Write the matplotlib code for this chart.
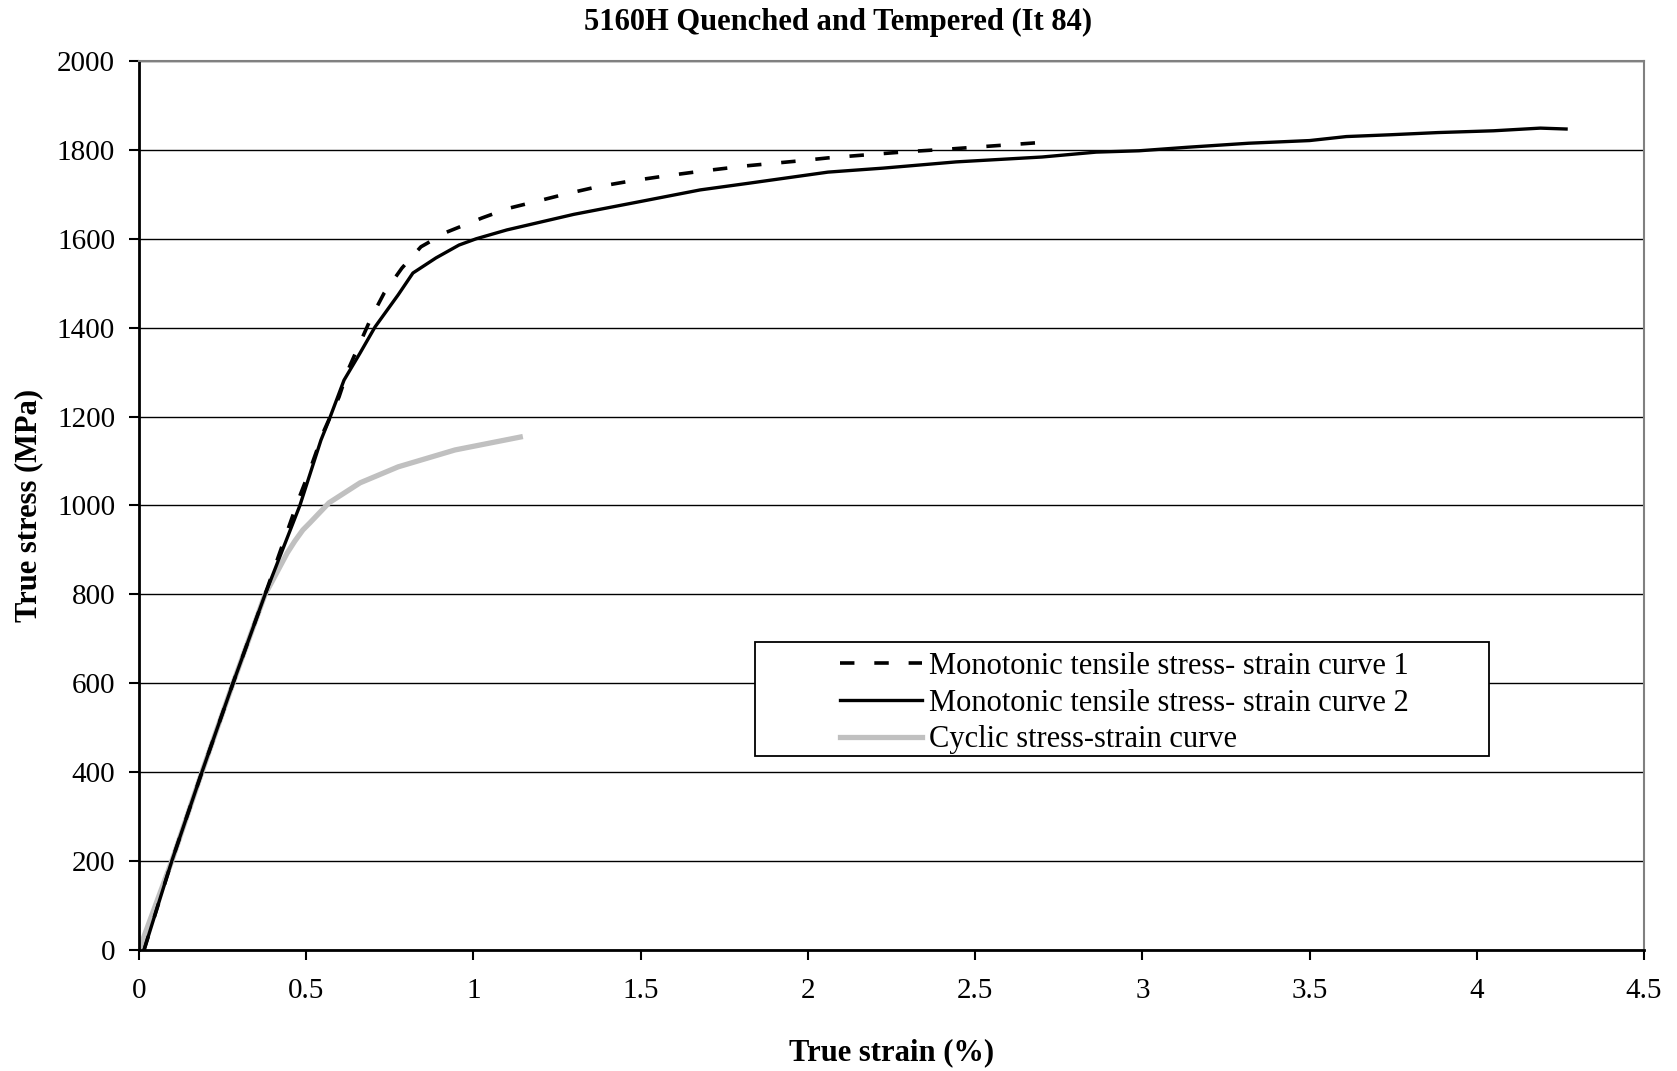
import matplotlib
matplotlib.use("Agg")
import matplotlib.pyplot as plt
from matplotlib.patches import Rectangle

# ---- data ----
strain_mono1 = [0.015, 0.098, 0.188, 0.281, 0.377, 0.476, 0.511, 0.55, 0.598, 0.625, 0.661,
                0.694, 0.733, 0.786, 0.843, 0.92, 1.026, 1.107, 1.193, 1.277, 1.37, 1.47,
                1.57, 1.68, 1.814, 1.97, 2.06, 2.16, 2.297, 2.425, 2.516, 2.684]
stress_mono1 = [0, 200, 400, 600, 800, 1012, 1080, 1163, 1244, 1305, 1366,
                1422, 1478, 1534, 1582, 1615, 1647, 1669, 1685, 1701, 1717, 1730,
                1741, 1752, 1764, 1775, 1782, 1788, 1796, 1802, 1807, 1816]

strain_mono2 = [0.015, 0.098, 0.188, 0.281, 0.377, 0.481, 0.544, 0.568, 0.613, 0.661, 0.706,
                0.775, 0.819, 0.888, 0.957, 1.008, 1.10, 1.30, 1.50, 1.678, 1.823, 2.06,
                2.225, 2.443, 2.70, 2.862, 2.99, 3.136, 3.318, 3.50, 3.61, 3.74, 3.884,
                4.05, 4.19, 4.267]
stress_mono2 = [0, 200, 400, 600, 800, 1000, 1147, 1192, 1282, 1343, 1402,
                1474, 1523, 1557, 1586, 1600, 1620, 1655, 1684, 1710, 1725, 1750,
                1759, 1773, 1784, 1795, 1798, 1806, 1815, 1821, 1830, 1834, 1839,
                1843, 1849, 1847]

strain_cyc = [0.0, 0.098, 0.188, 0.281, 0.377, 0.40, 0.443, 0.466, 0.49, 0.511, 0.568,
              0.661, 0.775, 0.945, 1.14]
stress_cyc = [0, 200, 400, 600, 800, 832, 893, 920, 945, 961, 1006,
              1051, 1087, 1125, 1154]

labels = ["Monotonic tensile stress- strain curve 1",
          "Monotonic tensile stress- strain curve 2",
          "Cyclic stress-strain curve"]
title = "5160H Quenched and Tempered (It 84)"
xlabel = "True strain (%)"
ylabel = "True stress (MPa)"

x_ticks = [0, 0.5, 1, 1.5, 2, 2.5, 3, 3.5, 4, 4.5]
x_ticklabels = ["0", "0.5", "1", "1.5", "2", "2.5", "3", "3.5", "4", "4.5"]
y_ticks = [0, 200, 400, 600, 800, 1000, 1200, 1400, 1600, 1800, 2000]

plt.rcParams['font.family'] = ['Liberation Serif', 'DejaVu Serif']

W, H = 1677, 1071
fig = plt.figure(figsize=(W / 100, H / 100), dpi=100)
ax = fig.add_axes([139 / W, 1 - 950 / H, (1644 - 139) / W, (950 - 61) / H])

ax.plot(strain_mono1, stress_mono1, color='black', lw=2.6, ls=(0, (4, 5.5)), label=labels[0], zorder=4)
ax.plot(strain_mono2, stress_mono2, color='black', lw=2.4, label=labels[1], zorder=3)
ax.plot(strain_cyc, stress_cyc, color='#c0c0c0', lw=3.8, label=labels[2], zorder=2)

ax.set_xlim(0, 4.5)
ax.set_ylim(0, 2000)
ax.set_xticks(x_ticks)
ax.set_xticklabels(x_ticklabels)
ax.set_yticks(y_ticks)
ax.yaxis.grid(True, color='black', lw=1.0)
ax.set_axisbelow(True)

for s in ['left', 'bottom']:
    ax.spines[s].set_color('black')
    ax.spines[s].set_linewidth(2.0)
for s in ['top', 'right']:
    ax.spines[s].set_color('#808080')
    ax.spines[s].set_linewidth(1.5)

ax.tick_params(axis='both', direction='out', length=7.2, width=1.5, labelsize=21, colors='black')
ax.tick_params(axis='x', pad=13)
ax.tick_params(axis='y', pad=10)

ax.set_xlabel(xlabel, fontsize=22, fontweight='bold')
ax.xaxis.set_label_coords(0.5, -(1053 - 950) / (950 - 61))
ax.xaxis.label.set_va('center')
ax.set_ylabel(ylabel, fontsize=22, fontweight='bold')
ax.yaxis.set_label_coords(-(139 - 29) / (1644 - 139), 0.5)
ax.yaxis.label.set_va('center')

fig.text(0.5, 1 - 22 / H, title, ha='center', va='center', fontsize=22, fontweight='bold')

# legend box (opaque, drawn over grid)
box = Rectangle((755 / W, 1 - 756 / H), (1489 - 755) / W, (756 - 642) / H,
                transform=fig.transFigure, facecolor='white', edgecolor='black',
                lw=1.3, zorder=5, clip_on=False)
ax.add_patch(box)

handles, labs = ax.get_legend_handles_labels()
leg = ax.legend(handles, labs, loc='upper left', bbox_to_anchor=(840 / W, 1 - 652 / H),
                bbox_transform=fig.transFigure, frameon=False, fontsize=22,
                handlelength=2.7, handletextpad=0.2, borderpad=0, labelspacing=0.25,
                borderaxespad=0)
leg.set_zorder(6)

fig.savefig("out.png", dpi=100)
